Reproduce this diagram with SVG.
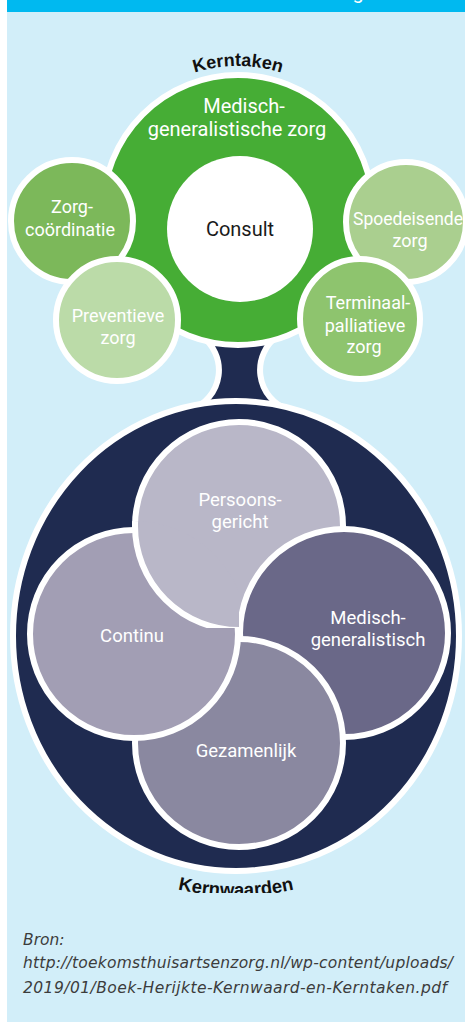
<svg xmlns="http://www.w3.org/2000/svg" width="465" height="1022" viewBox="0 0 465 1022">
  <defs>
    <style>
      .lbl { font-family: Roboto, "Liberation Sans", sans-serif; font-weight: 400; font-size: 18px; fill: #ffffff; text-anchor: middle; }
      .big { font-size: 20px; }
      .val { font-size: 18.5px; }
      .dark { fill: #1a1a1a; font-size: 20px; }
      .edge { stroke: #ffffff; stroke-width: 6; }
      .arcLbl { font-family: "Liberation Sans", Arial, sans-serif; font-weight: bold; font-size: 18px; fill: #111111; }
      .src { font-family: "DejaVu Sans", "Liberation Sans", sans-serif; font-style: italic; font-size: 15.5px; fill: #3c3c3c; }
    </style>
    <path id="arcTop" d="M94,210 A144,144 0 0 1 382,210" fill="none"/>
    <path id="arcBottom" d="M-24,636 A260,260 0 0 0 496,636" fill="none"/>
    <clipPath id="clipBottomLabel"><rect x="0" y="860" width="465" height="33"/></clipPath>
    <clipPath id="clipLeft"><rect x="0" y="400" width="239" height="228"/></clipPath>
    <clipPath id="clipContinu"><circle cx="134" cy="634" r="113"/></clipPath>
  </defs>

  <!-- page and panel -->
  <rect width="465" height="1022" fill="#ffffff"/>
  <rect x="7" y="0" width="458" height="1022" fill="#D2EEF9"/>
  <rect x="7" y="0" width="458" height="12" fill="#00B9F0"/>
  <text x="358" y="-1" class="lbl" style="font-size:20px">g</text>

  <!-- stem joining the two rings -->
  <g id="connectors">
    <path class="edge" fill="#1F2B50" d="M200,335 A42,42 0 0 1 190,410 L289,410 A42,42 0 0 1 279,335 Z"/>
  </g>

  <!-- core values ring -->
  <g id="kernwaarden">
    <ellipse class="edge" cx="236" cy="636" rx="223" ry="235" fill="#1F2B50"/>
    <g clip-path="url(#clipBottomLabel)">
      <text class="arcLbl" style="font-size:18.5px"><textPath href="#arcBottom" startOffset="50%" text-anchor="middle">Kernwaarden</textPath></text>
    </g>
  </g>

  <!-- core tasks ring -->
  <g id="kerntaken">
    <circle class="edge" cx="238" cy="210" r="135" fill="#46AD35"/>
    <text class="lbl big" x="244" y="113">Medisch-</text>
    <text class="lbl big" x="237" y="136">generalistische zorg</text>
    <text class="arcLbl"><textPath href="#arcTop" startOffset="50%" text-anchor="middle">Kerntaken</textPath></text>
  </g>

  <g id="consult">
    <circle cx="240" cy="229" r="73" fill="#ffffff"/>
    <text class="lbl dark" x="240" y="236">Consult</text>
  </g>

  <g id="zorgcoordinatie">
    <circle class="edge" cx="72" cy="221" r="61" fill="#7CB85A"/>
    <text class="lbl" x="72" y="213">Zorg-</text>
    <text class="lbl" x="70" y="236">coördinatie</text>
  </g>

  <g id="preventieve-zorg">
    <circle class="edge" cx="117" cy="320" r="61" fill="#BBDBA8"/>
    <text class="lbl" x="118" y="322">Preventieve</text>
    <text class="lbl" x="118" y="344">zorg</text>
  </g>

  <g id="spoedeisende-zorg">
    <circle class="edge" cx="406" cy="222" r="60" fill="#AACF8F"/>
    <text class="lbl" x="408" y="225" style="font-size:17.5px">Spoedeisende</text>
    <text class="lbl" x="410" y="247">zorg</text>
  </g>

  <g id="terminaal-palliatieve-zorg">
    <circle class="edge" cx="360" cy="319" r="60" fill="#8EC46E"/>
    <text class="lbl" x="368" y="309">Terminaal-</text>
    <text class="lbl" x="365" y="332">palliatieve</text>
    <text class="lbl" x="364" y="353">zorg</text>
  </g>

  <!-- four interlocking value circles -->
  <g id="persoonsgericht">
    <circle class="edge" cx="239" cy="526" r="104" fill="#B9B7C8"/>
    <text class="lbl val" x="240" y="506">Persoons-</text>
    <text class="lbl val" x="240" y="528">gericht</text>
  </g>

  <g id="medisch-generalistisch">
    <circle class="edge" cx="344" cy="633" r="104" fill="#6A6888"/>
    <text class="lbl val" x="368" y="624">Medisch-</text>
    <text class="lbl val" x="368" y="646">generalistisch</text>
  </g>

  <g id="gezamenlijk">
    <circle class="edge" cx="239" cy="743" r="104" fill="#8A88A0"/>
    <text class="lbl val" x="246" y="757">Gezamenlijk</text>
  </g>

  <g id="continu">
    <circle class="edge" cx="134" cy="634" r="104" fill="#A29EB4"/>
    <text class="lbl val" x="132" y="642">Continu</text>
  </g>

  <!-- top circle laps over the left one to close the pinwheel -->
  <g id="persoonsgericht-overlap" clip-path="url(#clipLeft)">
    <circle class="edge" cx="239" cy="526" r="104" fill="#B9B7C8" clip-path="url(#clipContinu)"/>
  </g>

  <!-- source -->
  <g id="bron">
    <text class="src" x="23" y="945">Bron:</text>
    <text class="src" x="23" y="968" textLength="430">http://toekomsthuisartsenzorg.nl/wp-content/uploads/</text>
    <text class="src" x="23" y="993" textLength="424">2019/01/Boek-Herijkte-Kernwaard-en-Kerntaken.pdf</text>
  </g>
</svg>
